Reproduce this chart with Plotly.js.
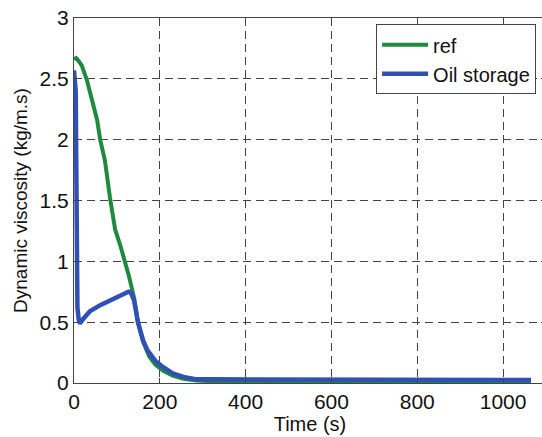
<!DOCTYPE html>
<html>
<head>
<meta charset="utf-8">
<script src="https://cdn.plot.ly/plotly-3.0.1.min.js"></script>
<style>
html,body{margin:0;padding:0;overflow:hidden;background:#fff;width:542px;height:437px;}
#chart{width:560px;height:437px;}
</style>
</head>
<body>
<div id="chart"></div>
<script>
// Reference curve (ref)
var refTime = [0, 5, 10, 18, 30, 45, 54, 61, 72, 84, 96, 108, 119, 128, 134, 140, 149, 161, 175, 190, 208, 230, 255, 285, 320, 400, 600, 800, 1000, 1065];
var refVisc = [2.66, 2.67, 2.65, 2.61, 2.49, 2.27, 2.16, 2.0, 1.83, 1.52, 1.26, 1.13, 1.0, 0.88, 0.79, 0.70, 0.50, 0.34, 0.22, 0.15, 0.10, 0.06, 0.035, 0.02, 0.015, 0.015, 0.015, 0.015, 0.015, 0.015];
// Oil storage curve
var oilTime = [0, 4, 6, 8, 11, 14, 20, 37, 61, 84, 107, 120, 127, 133, 140, 149, 161, 171, 190, 208, 230, 255, 286, 320, 383, 400, 600, 800, 1000, 1065];
var oilVisc = [2.57, 2.4, 1.5, 0.62, 0.52, 0.49, 0.52, 0.59, 0.64, 0.68, 0.72, 0.74, 0.75, 0.74, 0.68, 0.50, 0.35, 0.27, 0.18, 0.13, 0.08, 0.05, 0.03, 0.03, 0.03, 0.025, 0.025, 0.025, 0.025, 0.025];
var seriesNames = ['ref', 'Oil storage'];
var xTicks = [0, 200, 400, 600, 800, 1000];
var yTicks = [0, 0.5, 1, 1.5, 2, 2.5, 3];
var yTickText = ['0', '0.5', '1', '1.5', '2', '2.5', '3'];

var font = 'Liberation Sans, Arial, sans-serif';
var traces = [
  {x: refTime, y: refVisc, name: seriesNames[0], mode: 'lines', line: {color: '#1f8a3e', width: 4}},
  {x: oilTime, y: oilVisc, name: seriesNames[1], mode: 'lines', line: {color: '#2f50b4', width: 4.5}}
];
var axisCommon = {
  showline: true, linecolor: '#444', linewidth: 1, mirror: 'ticks',
  ticks: 'inside', ticklen: 5, tickcolor: '#444',
  showgrid: true, gridcolor: '#444', gridwidth: 1, griddash: '8px,5px',
  zeroline: false, tickfont: {family: font, size: 21, color: '#111'}
};
var layout = {
  width: 560, height: 437,
  margin: {l: 74, r: 14, t: 18, b: 54},
  paper_bgcolor: '#fff', plot_bgcolor: '#fff',
  font: {family: font, color: '#111'},
  xaxis: Object.assign({}, axisCommon, {
    range: [0, 1100], tickvals: xTicks,
    title: {text: 'Time (s)', font: {family: font, size: 20, color: '#111'}, standoff: 2}
  }),
  yaxis: Object.assign({}, axisCommon, {
    range: [0, 3], tickvals: yTicks, ticktext: yTickText,
    title: {text: 'Dynamic viscosity (kg/m.s)', font: {family: font, size: 19, color: '#111'}, standoff: 6}
  }),
  showlegend: true,
  legend: {
    x: 0.64, y: 0.983, xanchor: 'left', yanchor: 'top',
    bgcolor: '#fff', bordercolor: '#444', borderwidth: 1,
    font: {family: font, size: 20, color: '#111'},
    itemwidth: 46,
    tracegroupgap: 0
  }
};
Plotly.newPlot('chart', traces, layout, {displayModeBar: false, staticPlot: true});
</script>
</body>
</html>
